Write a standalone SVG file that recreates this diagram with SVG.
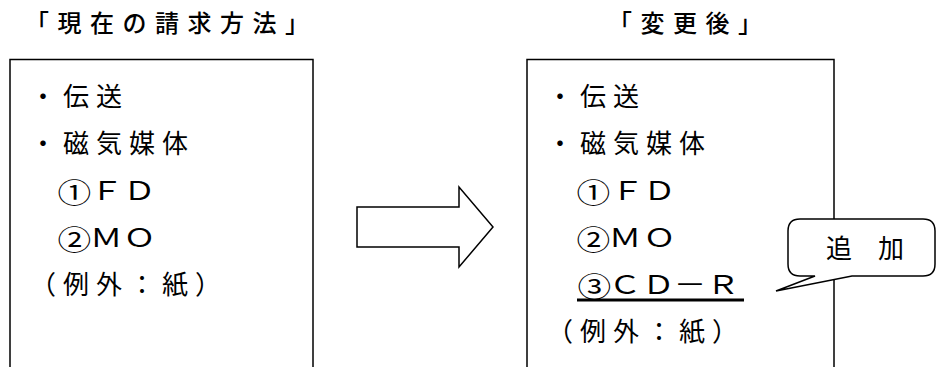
<svg xmlns="http://www.w3.org/2000/svg" width="937" height="367" viewBox="0 0 937 367">
<style>
text{font-family:"Noto Sans CJK JP","Noto Sans CJK SC",sans-serif;fill:#000}
.t{font-size:24px;font-weight:500;letter-spacing:8.5px}
.b{font-size:26px;letter-spacing:7px}
.w{font-size:26px}
.c{font-size:27px}
.box{fill:none;stroke:#000;stroke-width:1.5}
</style>
<rect width="937" height="367" fill="#fff"/>
<g id="title-left"><text class="t" x="25" y="32">「現在の請求方法」</text></g>
<g id="title-right"><text class="t" x="608" y="32">「変更後」</text></g>
<g id="box-left">
<rect class="box" x="10" y="59.5" width="303" height="330"/>
<text class="b" x="30" y="106">・伝送</text>
<text class="b" x="30" y="153">・磁気媒体</text>
<text class="w" transform="scale(1.25,1)" x="46 72.4 98.6" y="203 200 200"><tspan class="c">①</tspan>ＦＤ</text>
<text class="w" transform="scale(1.25,1)" x="46 72 98.6" y="250 247 247"><tspan class="c">②</tspan>ＭＯ</text>
<text class="b" x="30" y="294">（例外：紙）</text>
</g>
<g id="box-right">
<rect class="box" x="527" y="59.5" width="307" height="330"/>
<text class="b" x="547" y="106">・伝送</text>
<text class="b" x="547" y="153">・磁気媒体</text>
<text class="w" transform="scale(1.25,1)" x="461.2 489 514.6" y="203 200 200"><tspan class="c">①</tspan>ＦＤ</text>
<text class="w" transform="scale(1.25,1)" x="461.2 487 514.6" y="250 247 247"><tspan class="c">②</tspan>ＭＯ</text>
<text class="w" transform="scale(1.25,1)" x="462 487 513.8 539 565.4" y="297 294 294 294 294"><tspan class="c">③</tspan>ＣＤ－Ｒ</text>
<line x1="577" y1="300" x2="744" y2="300" stroke="#000" stroke-width="3"/>
<text class="b" x="547" y="341">（例外：紙）</text>
</g>
<g id="connectors">
<polygon class="box" fill="#fff" points="357,207 459,207 459,187 493,227 459,267 459,247 357,247"/>
</g>
<g id="callout">
<path d="M 800 219 H 923 Q 935 219 935 231 V 264 Q 935 276 923 276 H 852 L 776 291 L 815 276 H 800 Q 788 276 788 264 V 231 Q 788 219 800 219 Z" fill="#fff" stroke="#000" stroke-width="1.5"/>
<text x="826" y="258" font-size="26">追　加</text>
</g>
</svg>
